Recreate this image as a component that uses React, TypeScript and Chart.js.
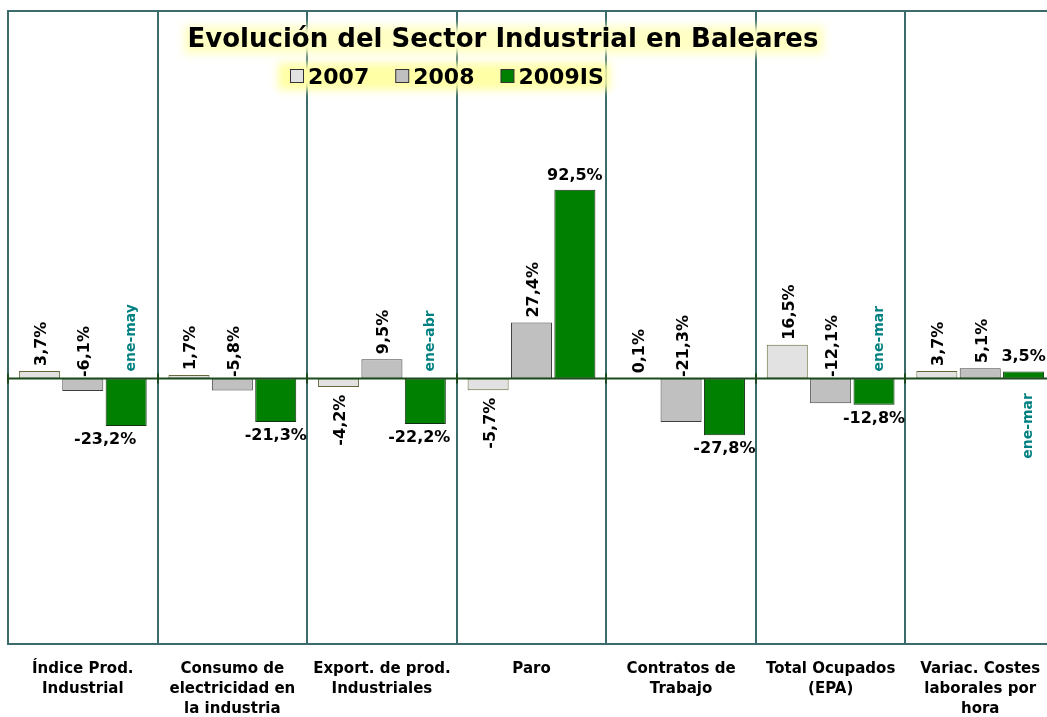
import React, { useEffect, useRef } from 'react';
import { Chart, registerables } from 'chart.js';
Chart.register(...registerables);

const categories: string[][] = [
  ['Índice Prod.', 'Industrial'],
  ['Consumo de', 'electricidad en', 'la industria'],
  ['Export. de prod.', 'Industriales'],
  ['Paro'],
  ['Contratos de', 'Trabajo'],
  ['Total Ocupados', '(EPA)'],
  ['Variac. Costes', 'laborales por', 'hora'],
];
const seriesNames = ['2007', '2008', '2009IS'];
const values2007 = [3.7, 1.7, -4.2, -5.7, 0.1, 16.5, 3.7];
const values2008 = [-6.1, -5.8, 9.5, 27.4, -21.3, -12.1, 5.1];
const values2009 = [-23.2, -21.3, -22.2, 92.5, -27.8, -12.8, 3.5];
const periodNotes = ['ene-may', '', 'ene-abr', '', '', 'ene-mar', 'ene-mar'];
const chartTitle = 'Evolución del Sector Industrial en Baleares';

// label placement styles
const modes2007 = ['up', 'up', 'down', 'down', 'up', 'up', 'up'];
const modes2008 = ['zero', 'zero', 'up', 'up', 'zero', 'zero', 'up'];
const modes2009 = ['below', 'below', 'below', 'above', 'below', 'below', 'above'];
const shift2009 = [-21, 0, -6, 0, 0, 0, 0];

const FONT = '"DejaVu Sans", Verdana, sans-serif';
const GRID = '#3b6b6b';
const ZERO = '#1d4a1d';
const fillColors = ['#e2e2e2', '#c0c0c0', '#008000'];
const edgeColors = ['#66663a', '#404040', '#143014'];

const fmt = (v: number) => v.toFixed(1).replace('.', ',') + '%';

function vtext(ctx: CanvasRenderingContext2D, text: string, x: number, y: number, align: CanvasTextAlign) {
  ctx.save();
  ctx.translate(x, y);
  ctx.rotate(-Math.PI / 2);
  ctx.textAlign = align;
  ctx.textBaseline = 'alphabetic';
  ctx.fillText(text, 0, 0);
  ctx.restore();
}

const overlayPlugin = {
  id: 'overlay',
  afterDatasetsDraw(chart: any) {
    const { ctx, chartArea, scales } = chart;
    const y0 = scales.y.getPixelForValue(0);
    const n = categories.length;
    const w = (chartArea.right - chartArea.left) / n;
    ctx.save();
    // top border
    ctx.strokeStyle = GRID;
    ctx.lineWidth = 2;
    ctx.beginPath();
    ctx.moveTo(chartArea.left - 1, chartArea.top);
    ctx.lineTo(chartArea.right + 1, chartArea.top);
    ctx.stroke();
    // zero line
    ctx.strokeStyle = ZERO;
    ctx.beginPath();
    ctx.moveTo(chartArea.left, y0);
    ctx.lineTo(chartArea.right, y0);
    ctx.stroke();
    for (let i = 0; i <= n; i++) {
      const x = Math.round(chartArea.left + i * w);
      ctx.beginPath();
      ctx.moveTo(x, y0 - 5);
      ctx.lineTo(x, y0 + 5);
      ctx.stroke();
    }

    // data labels
    const modes = [modes2007, modes2008, modes2009];
    ctx.fillStyle = '#000';
    ctx.font = `bold 16px ${FONT}`;
    for (let d = 0; d < 3; d++) {
      const meta = chart.getDatasetMeta(d);
      const vals = chart.data.datasets[d].data as number[];
      meta.data.forEach((bar: any, i: number) => {
        const txt = fmt(vals[i]);
        const m = modes[d][i];
        const bx = bar.x + 6.5;
        if (m === 'up') vtext(ctx, txt, bx, bar.y - 5, 'left');
        else if (m === 'down') vtext(ctx, txt, bx, bar.y + 7.5, 'right');
        else if (m === 'zero') vtext(ctx, txt, bx, y0 - 1.5, 'left');
        else {
          ctx.textAlign = 'center';
          ctx.textBaseline = 'alphabetic';
          const x = bar.x + shift2009[i];
          if (m === 'below') ctx.fillText(txt, x, bar.y + 18);
          else ctx.fillText(txt, x, bar.y - 10);
        }
      });
    }
    // period notes
    ctx.fillStyle = '#008080';
    ctx.font = `bold 14px ${FONT}`;
    const meta3 = chart.getDatasetMeta(2);
    meta3.data.forEach((bar: any, i: number) => {
      const note = periodNotes[i];
      if (!note) return;
      const v = values2009[i];
      if (v < 0) vtext(ctx, note, bar.x + 8.5, y0 - 7, 'left');
      else vtext(ctx, note, bar.x + 8.5, y0 + 14.5, 'right');
    });
    ctx.restore();
  },
  afterDraw(chart: any) {
    const { ctx } = chart;
    ctx.save();
    // title glow
    ctx.filter = 'blur(4px)';
    ctx.fillStyle = '#ffffc4';
    ctx.fillRect(184, 26, 640, 28);
    ctx.fillStyle = '#ffffa6';
    ctx.fillRect(278, 63, 332, 27);
    ctx.filter = 'none';
    ctx.fillStyle = '#000';
    ctx.font = `bold 26px ${FONT}`;
    ctx.textAlign = 'center';
    ctx.textBaseline = 'alphabetic';
    ctx.fillText(chartTitle, 503, 46.5);
    // legend
    ctx.font = `bold 22px ${FONT}`;
    ctx.textAlign = 'left';
    let x = 290;
    seriesNames.forEach((name, i) => {
      ctx.fillStyle = fillColors[i];
      ctx.fillRect(x + 0.5, 69.5, 13, 13);
      ctx.strokeStyle = '#333';
      ctx.lineWidth = 1;
      ctx.strokeRect(x + 0.5, 69.5, 13, 13);
      ctx.fillStyle = '#000';
      ctx.fillText(name, x + 18, 83.5);
      x += 18 + ctx.measureText(name).width + 26;
    });
    ctx.restore();
  },
};

export default function App() {
  const ref = useRef<HTMLCanvasElement>(null);
  useEffect(() => {
    if (!ref.current) return;
    const seriesValues = [values2007, values2008, values2009];
    const chart = new Chart(ref.current, {
      type: 'bar',
      data: {
        labels: categories,
        datasets: seriesNames.map((name, i) => ({
          label: name,
          data: seriesValues[i],
          backgroundColor: fillColors[i],
          borderColor: edgeColors[i],
          borderWidth: 1,
          borderSkipped: false,
          categoryPercentage: 0.87,
          barPercentage: 0.946,
        })),
      },
      options: {
        responsive: false,
        animation: false,
        devicePixelRatio: 1,
        layout: { padding: { left: 8, top: 11, right: 11, bottom: 0 } },
        plugins: { legend: { display: false }, tooltip: { enabled: false }, title: { display: false } },
        scales: {
          x: {
            grid: { color: GRID, lineWidth: 2, drawTicks: false, offset: true },
            border: { display: true, color: GRID, width: 2 },
            ticks: {
              color: '#000',
              font: { family: FONT, size: 15, weight: 'bold', lineHeight: 20 / 15 },
              padding: 15.5,
              maxRotation: 0,
              autoSkip: false,
            },
            afterFit: (scale: any) => {
              scale.height = 73;
            },
          },
          y: {
            display: false,
            min: -130,
            max: 180,
          },
        },
      },
      plugins: [overlayPlugin],
    } as any);
    return () => chart.destroy();
  }, []);
  return (
    <div style={{ position: 'fixed', left: 0, top: 0, width: 1047, height: 717, overflow: 'hidden', background: '#fff' }}>
      <canvas ref={ref} width={1066} height={717} style={{ display: 'block' }} />
    </div>
  );
}
